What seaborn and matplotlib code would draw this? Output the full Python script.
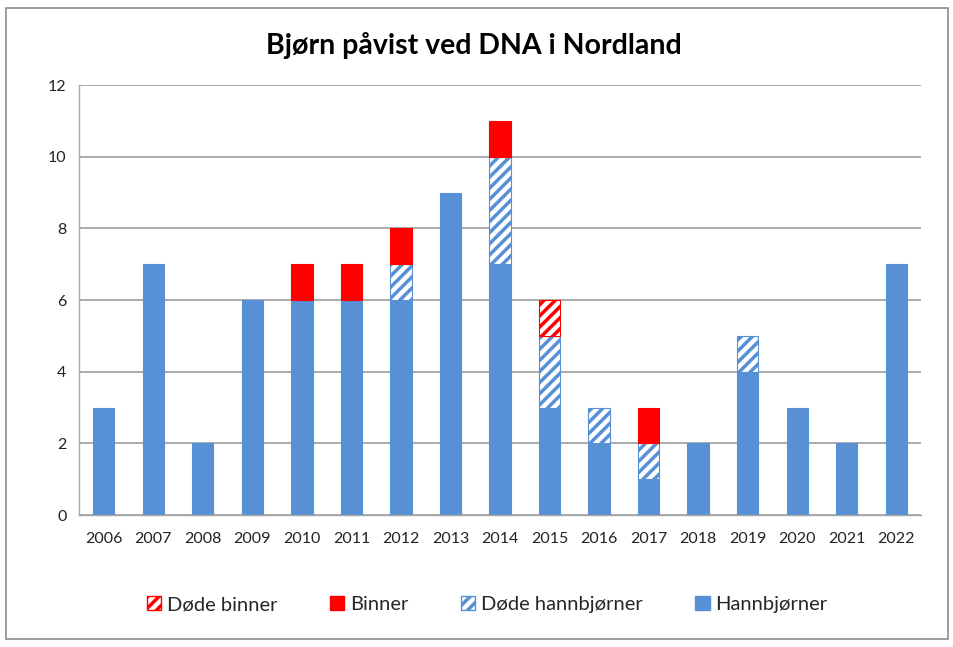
import numpy as np
import pandas as pd
import seaborn as sns
import matplotlib.pyplot as plt
from matplotlib.patches import Rectangle, Patch

years = [str(y) for y in range(2006, 2023)]
hannbjorner = [3, 7, 2, 6, 6, 6, 6, 9, 7, 3, 2, 1, 2, 4, 3, 2, 7]
dode_hannbjorner = [0, 0, 0, 0, 0, 0, 1, 0, 3, 2, 1, 1, 0, 1, 0, 0, 0]
binner = [0, 0, 0, 0, 1, 1, 1, 0, 1, 0, 0, 1, 0, 0, 0, 0, 0]
dode_binner = [0, 0, 0, 0, 0, 0, 0, 0, 0, 1, 0, 0, 0, 0, 0, 0, 0]

blue = '#5890D6'
red = '#FF0000'

sns.set_style('white')
plt.rcParams['font.family'] = ['Lato', 'DejaVu Sans']
plt.rcParams['hatch.linewidth'] = 2.5

df = pd.DataFrame({'year': years, 'hann': hannbjorner, 'dhann': dode_hannbjorner,
                   'binner': binner, 'dbinner': dode_binner})

fig = plt.figure(figsize=(9.54, 6.47), dpi=100)
ax = fig.add_axes([0.0828, 0.204, 0.8826, 0.6646])

w = 0.43
b1 = np.array(hannbjorner)
b2 = b1 + np.array(dode_hannbjorner)
b3 = b2 + np.array(binner)

sns.barplot(data=df, x='year', y='hann', color=blue, width=w, ax=ax,
            saturation=1, edgecolor=blue, linewidth=0.8)
sns.barplot(data=df, x='year', y='dhann', bottom=b1, color='white', width=w, ax=ax,
            saturation=1, edgecolor=blue, linewidth=0.8, hatch='///')
sns.barplot(data=df, x='year', y='binner', bottom=b2, color=red, width=w, ax=ax,
            saturation=1, edgecolor=red, linewidth=0.8)
sns.barplot(data=df, x='year', y='dbinner', bottom=b3, color='white', width=w, ax=ax,
            saturation=1, edgecolor=red, linewidth=0.8, hatch='///')

# hide empty segments (their outlines would show as thin lines)
for p in ax.patches:
    if p.get_height() == 0:
        p.set_visible(False)

ax.set_ylim(0, 12)
ax.set_xlim(-0.5, len(years) - 0.5)
ax.set_yticks(range(0, 13, 2))
ax.yaxis.grid(True, color='#A6A6A6', linewidth=1.3)
ax.set_axisbelow(True)
ax.set_xlabel('')
ax.set_ylabel('')
for s in ['top', 'right']:
    ax.spines[s].set_visible(False)
for s in ['left', 'bottom']:
    ax.spines[s].set_color('#A6A6A6')
    ax.spines[s].set_linewidth(1.0)

ax.set_xticks(np.arange(len(years)))
ax.set_xticklabels(years)
ax.set_xticks(np.arange(-0.5, len(years)), minor=True)
ax.tick_params(axis='x', which='major', length=0, labelsize=11.5, pad=12, colors='#222222')
ax.tick_params(axis='x', which='minor', length=5, color='#A6A6A6', width=1)
ax.tick_params(axis='y', length=5, color='#A6A6A6', width=1, labelsize=11.5, pad=4,
               colors='#222222')
for t in ax.get_yticklabels():
    t.set_color('#222222')

fig.text(0.497, 0.930, 'Bjørn påvist ved DNA i Nordland', fontsize=20.5,
         fontweight='bold', ha='center', va='center', color='black')

handles = [
    Patch(facecolor='white', edgecolor=red, hatch='///', label='Døde binner'),
    Patch(facecolor=red, edgecolor=red, label='Binner'),
    Patch(facecolor='white', edgecolor=blue, hatch='///', label='Døde hannbjørner'),
    Patch(facecolor=blue, edgecolor=blue, label='Hannbjørner'),
]
fig.legend(handles=handles, loc='center', bbox_to_anchor=(0.511, 0.065), ncol=4,
           frameon=False, fontsize=14.5, handlelength=0.7, handleheight=0.7,
           handletextpad=0.3, columnspacing=2.6)

fig.add_artist(Rectangle((0.006, 0.012), 0.988, 0.975, transform=fig.transFigure,
                         fill=False, edgecolor='#8C8C8C', linewidth=1.2))

fig.savefig('out.png', dpi=100)
